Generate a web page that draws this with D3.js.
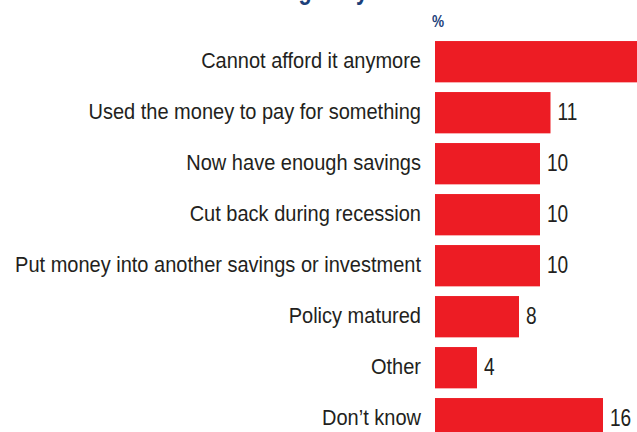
<!DOCTYPE html>
<html>
<head>
<meta charset="utf-8">
<script src="https://cdn.jsdelivr.net/npm/d3@7"></script>
<style>
  html, body { margin: 0; padding: 0; background: #fff; }
  svg { display: block; }
  text { font-family: "Liberation Sans", Arial, sans-serif; }
</style>
</head>
<body>
<svg id="chart" width="637" height="432"></svg>
<script>
// Reasons given, share of respondents (%)
const categories = [
  "Cannot afford it anymore",
  "Used the money to pay for something",
  "Now have enough savings",
  "Cut back during recession",
  "Put money into another savings or investment",
  "Policy matured",
  "Other",
  "Don\u2019t know"
];
const values = [38, 11, 10, 10, 10, 8, 4, 16];
const titleText = "Reasons for cancelling early";
const unitLabel = "%";

const W = 637;
const svg = d3.select("#chart");
const barLeft = 435;
const ink = "#231f20";
const navy = "#1c3f7a";

const x = d3.scaleLinear().domain([0, 16]).range([0, 168]);
const y = d3.scaleBand()
  .domain(categories)
  .range([36.2, 36.2 + categories.length * 51])
  .paddingInner(0.19)
  .paddingOuter(0.095);

// Title line sits mostly above the top edge
svg.append("text")
  .attr("transform", `translate(368,-1) scale(0.8,1)`)
  .attr("text-anchor", "end")
  .attr("fill", navy)
  .attr("font-weight", "bold")
  .attr("font-size", 27)
  .text(titleText);

svg.append("text")
  .attr("transform", `translate(432,27) scale(0.8,1)`)
  .attr("fill", navy)
  .attr("font-weight", "bold")
  .attr("font-size", 17)
  .text(unitLabel);

const rows = svg.append("g").selectAll("g")
  .data(categories.map((c, i) => ({ c, v: values[i] })))
  .join("g");

rows.append("rect")
  .attr("x", barLeft)
  .attr("y", d => y(d.c))
  .attr("width", d => x(d.v))
  .attr("height", y.bandwidth())
  .attr("fill", "#ed1c24");

rows.append("text")
  .attr("transform", d => `translate(${barLeft - 14},${y(d.c) + y.bandwidth() / 2}) scale(0.89,1)`)
  .attr("dy", "0.27em")
  .attr("text-anchor", "end")
  .attr("fill", ink)
  .attr("font-size", 22.5)
  .text(d => d.c);

// Value labels; the first bar runs past the right edge, so its label would not be seen
rows.filter(d => barLeft + x(d.v) + 30 < W)
  .append("text")
  .attr("transform", d => `translate(${barLeft + x(d.v) + 7},${y(d.c) + y.bandwidth() / 2}) scale(0.83,1)`)
  .attr("dy", "0.3em")
  .attr("fill", ink)
  .attr("font-size", 23)
  .text(d => d.v);
</script>
</body>
</html>
